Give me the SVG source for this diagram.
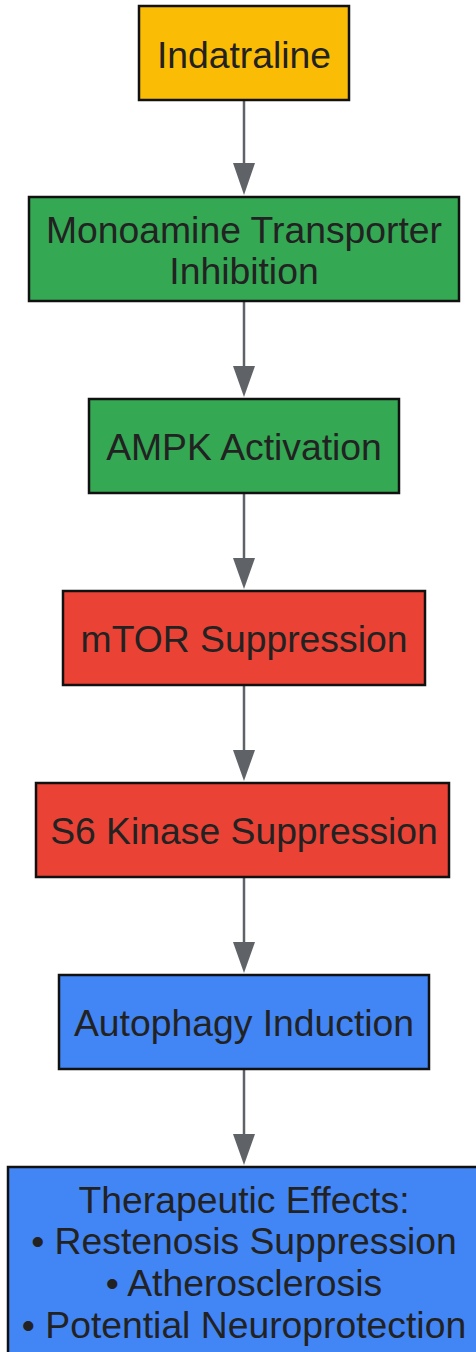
<svg xmlns="http://www.w3.org/2000/svg" width="476" height="1352" viewBox="0 0 476 1352">
<style>
.n rect{stroke:#111;stroke-width:2.5}
.n text{font-family:"Liberation Sans",Arial,sans-serif;font-size:37.3px;fill:#222;text-anchor:middle}
.c line{stroke:#5f6368;stroke-width:2.5}
.c polygon{fill:#5f6368}
</style>
<rect width="476" height="1352" fill="#fff"/>
<g class="c" id="connectors">
<line x1="244" y1="101" x2="244" y2="166"/><polygon points="233,163 255,163 244,195"/>
<line x1="244" y1="302" x2="244" y2="369"/><polygon points="233,366 255,366 244,397"/>
<line x1="244" y1="494" x2="244" y2="561"/><polygon points="233,558 255,558 244,589"/>
<line x1="244" y1="686" x2="244" y2="753"/><polygon points="233,750 255,750 244,781"/>
<line x1="244" y1="878" x2="244" y2="945"/><polygon points="233,942 255,942 244,973"/>
<line x1="244" y1="1070" x2="244" y2="1137"/><polygon points="233,1134 255,1134 244,1165"/>
</g>
<g class="n" id="indatraline"><rect x="139" y="6" width="210" height="94" fill="#FBBC05"/><text x="244" y="68">Indatraline</text></g>
<g class="n" id="monoamine"><rect x="29" y="197" width="430" height="104" fill="#34A853"/><text x="244" y="243">Monoamine Transporter</text><text x="244" y="284">Inhibition</text></g>
<g class="n" id="ampk"><rect x="89" y="399" width="310" height="94" fill="#34A853"/><text x="244" y="460">AMPK Activation</text></g>
<g class="n" id="mtor"><rect x="63" y="591" width="362" height="94" fill="#EA4335"/><text x="244" y="652">mTOR Suppression</text></g>
<g class="n" id="s6k"><rect x="36" y="783" width="413" height="94" fill="#EA4335"/><text x="244" y="844">S6 Kinase Suppression</text></g>
<g class="n" id="autophagy"><rect x="59" y="975" width="370" height="94" fill="#4285F4"/><text x="244" y="1036">Autophagy Induction</text></g>
<g class="n" id="effects"><rect x="8" y="1167" width="472" height="200" fill="#4285F4"/><text x="244" y="1213">Therapeutic Effects:</text><text x="244" y="1254">• Restenosis Suppression</text><text x="244" y="1296">• Atherosclerosis</text><text x="244" y="1338">• Potential Neuroprotection</text></g>
</svg>
